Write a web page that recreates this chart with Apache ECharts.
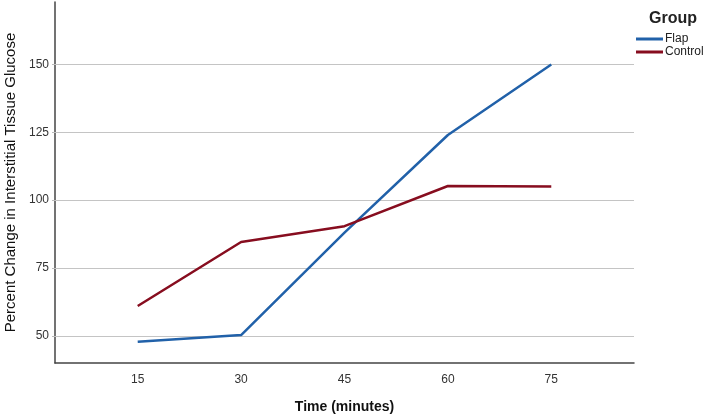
<!DOCTYPE html>
<html>
<head>
<meta charset="utf-8">
<script src="https://cdn.jsdelivr.net/npm/echarts@6/dist/echarts.min.js"></script>
<style>html,body{margin:0;padding:0;background:#fff}#c{width:709px;height:416px}</style>
</head>
<body>
<div id="c"></div>
<script>
const times = [15, 30, 45, 60, 75];
const flap = [47.8, 50.3, 88, 124, 150];
const control = [61, 84.6, 90.4, 105.2, 105];
const yTicks = [50, 75, 100, 125, 150];
const xTicks = [15, 30, 45, 60, 75];

const chart = echarts.init(document.getElementById('c'));
const font = 'Liberation Sans, Arial, sans-serif';
chart.setOption({
  animation: false,
  backgroundColor: '#fff',
  title: {
    text: 'Group', left: 644, top: 6,
    textStyle: {fontFamily: font, fontSize: 16, fontWeight: 'bold', color: '#222'}
  },
  legend: {
    orient: 'vertical', left: 636, top: 33, padding: 0,
    itemWidth: 27, itemHeight: 3, itemGap: 1,
    icon: 'rect',
    textStyle: {fontFamily: font, fontSize: 12, lineHeight: 12, color: '#222', padding: [0, 0, 0, -3]},
    data: ['Flap', 'Control']
  },
  grid: {left: 55, right: 75, top: 2, bottom: 53, outerBoundsMode: 'none', containLabel: false},
  xAxis: {
    type: 'value', min: 3, max: 87,
    name: 'Time (minutes)', nameLocation: 'middle', nameGap: 37,
    nameTextStyle: {fontFamily: font, fontSize: 14, fontWeight: 'bold', color: '#111'},
    axisLine: {lineStyle: {color: '#444', width: 1.5}},
    axisTick: {show: false},
    splitLine: {show: false},
    axisLabel: {customValues: xTicks, fontFamily: font, fontSize: 12, color: '#333', margin: 11}
  },
  yAxis: {
    type: 'value', min: 40, max: 173,
    name: 'Percent Change in Interstitial Tissue Glucose', nameLocation: 'middle', nameGap: 34,
    nameTextStyle: {fontFamily: font, fontSize: 15, color: '#111'},
    axisLine: {show: true, lineStyle: {color: '#444', width: 1.5}},
    axisTick: {show: true, customValues: yTicks, length: 3, lineStyle: {color: '#bbb'}},
    splitLine: {show: false},
    axisLabel: {customValues: yTicks, fontFamily: font, fontSize: 12, color: '#333', margin: 6}
  },
  series: [
    {
      name: 'Flap', type: 'line', symbol: 'none',
      data: times.map((t, i) => [t, flap[i]]),
      lineStyle: {color: '#2161a9', width: 2.5},
      itemStyle: {color: '#2161a9'},
      z: 3,
      markLine: {
        silent: true, symbol: 'none', label: {show: false},
        lineStyle: {color: '#c4c4c4', width: 1.2, type: 'solid'},
        data: yTicks.map(v => ({yAxis: v})),
        z: 1
      }
    },
    {
      name: 'Control', type: 'line', symbol: 'none',
      data: times.map((t, i) => [t, control[i]]),
      lineStyle: {color: '#870d1f', width: 2.5},
      itemStyle: {color: '#870d1f'},
      z: 3
    }
  ]
});
</script>
</body>
</html>
